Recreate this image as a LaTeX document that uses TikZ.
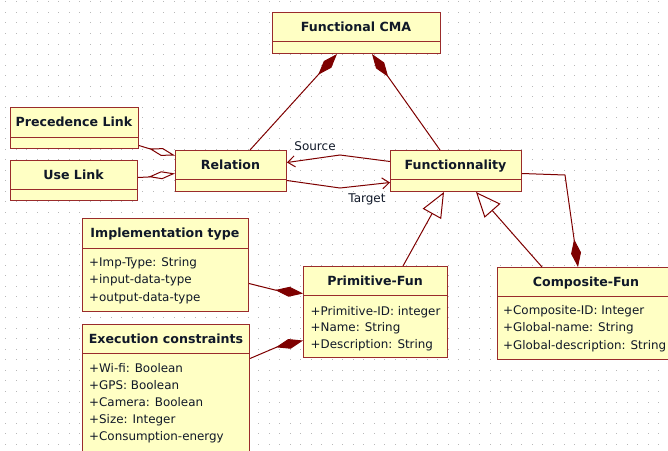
\documentclass[tikz,border=0pt]{standalone}
\usepackage{fontspec}
\setmainfont{DejaVu Sans}
\usetikzlibrary{arrows.meta,calc}
\definecolor{umlline}{HTML}{7E0000}
\definecolor{umlborder}{HTML}{9A2B2B}
\definecolor{umlfill}{HTML}{FFFFC4}
\definecolor{umltext}{HTML}{101828}
\definecolor{griddot}{HTML}{B8B8B8}
\begin{document}
\begin{tikzpicture}[x=1pt,y=-1pt,
  cls/.style={draw=umlborder, fill=umlfill, line width=1pt, anchor=north west, inner sep=0pt},
  divl/.style={draw=umlborder, line width=1pt},
  ttl/.style={font=\fontsize{12.6}{14}\selectfont\bfseries, text=umltext, inner sep=0pt, text height=9.2pt, text depth=0pt},
  attr/.style={font=\fontsize{11.9}{14}\selectfont, text=umltext, inner sep=0pt, anchor=base west},
  lbl/.style={font=\fontsize{12}{14}\selectfont, text=umltext, inner sep=0pt},
  conn/.style={draw=umlline, line width=1pt, line join=miter},
  compo/.style={conn, -{Diamond[length=28pt,width=10pt,fill=umlline]}},
  aggr/.style={conn, -{Diamond[open,length=27pt,width=8pt]}},
  gen/.style={conn, -{Triangle[open,length=25pt,width=21pt]}},
  nav/.style={conn, -{Straight Barb[length=7pt,width=11pt]}}
]
\clip (0,0) rectangle (668,450);
\fill[white] (0,0) rectangle (668,450);
% dotted grid
\foreach \i in {0,...,63}{
  \foreach \j in {0,...,42}{
    \fill[griddot] (5.4+10.53*\i,1.4+10.53*\j) rectangle ++(1,1);
  }
}
% ---------- classes ----------
\node[cls, minimum width=168pt, minimum height=41pt] (cma) at (272,12) {};
\draw[divl] ([yshift=-29pt]cma.north west) -- ([yshift=-29pt]cma.north east);
\node[ttl] (cmat) at (356,26.5) {Functional CMA};

\node[cls, minimum width=128pt, minimum height=41pt] (prec) at (10,107) {};
\draw[divl] ([yshift=-30pt]prec.north west) -- ([yshift=-30pt]prec.north east);
\node[ttl] (prect) at (74,122) {Precedence Link};

\node[cls, minimum width=127pt, minimum height=40pt] (use) at (10,160) {};
\draw[divl] ([yshift=-29pt]use.north west) -- ([yshift=-29pt]use.north east);
\node[ttl] (uset) at (73.5,174.5) {Use Link};

\node[cls, minimum width=111pt, minimum height=41pt] (rel) at (175,150) {};
\draw[divl] ([yshift=-29pt]rel.north west) -- ([yshift=-29pt]rel.north east);
\node[ttl] (relt) at (230.5,164.5) {Relation};

\node[cls, minimum width=131pt, minimum height=41pt] (func) at (390,150) {};
\draw[divl] ([yshift=-29pt]func.north west) -- ([yshift=-29pt]func.north east);
\node[ttl] (funct) at (455.5,164.5) {Functionnality};

\node[cls, minimum width=166pt, minimum height=93pt] (impl) at (82,218) {};
\draw[divl] ([yshift=-30pt]impl.north west) -- ([yshift=-30pt]impl.north east);
\node[ttl] (implt) at (165,233) {Implementation type};
\foreach \t [count=\k from 0] in {+Imp-Type: String,+input-data-type,+output-data-type}
  \node[attr] (impla\k) at (89,266.7+17.2*\k) {\t};

\node[cls, minimum width=144pt, minimum height=91pt] (prim) at (303,266) {};
\draw[divl] ([yshift=-29pt]prim.north west) -- ([yshift=-29pt]prim.north east);
\node[ttl] (primt) at (375,280.5) {Primitive-Fun};
\foreach \t [count=\k from 0] in {+Primitive-ID: integer,+Name: String,+Description: String}
  \node[attr] (prima\k) at (310.5,315+16.9*\k) {\t};

\node[cls, minimum width=174pt, minimum height=92pt] (comp) at (497,267) {};
\draw[divl] ([yshift=-29pt]comp.north west) -- ([yshift=-29pt]comp.north east);
\node[ttl] (compt) at (586,281.5) {Composite-Fun};
\foreach \t [count=\k from 0] in {+Composite-ID: Integer,+Global-name: String,+Global-description: String}
  \node[attr] (compa\k) at (503,314.5+17.3*\k) {\t};

\node[cls, minimum width=167pt, minimum height=140pt] (exec) at (82,324) {};
\draw[divl] ([yshift=-29pt]exec.north west) -- ([yshift=-29pt]exec.north east);
\node[ttl] (exect) at (166,338.5) {Execution constraints};
\foreach \t [count=\k from 0] in {+Wi-fi: Boolean,+GPS: Boolean,+Camera: Boolean,+Size: Integer,+Consumption-energy}
  \node[attr] (execa\k) at (89,372.7+17*\k) {\t};

% ---------- connectors ----------
% compositions into Functional CMA
\draw[compo] ([xshift=75pt]rel.north west) -- ([xshift=65pt]cma.south west);
\draw[compo] ([xshift=50pt]func.north west) -- ([xshift=100pt]cma.south west);
% aggregations into Relation
\coordinate (pb) at (147,148);
\coordinate (ub) at (148,177);
\draw[aggr] ([yshift=-17.5pt]prec.east) -- (pb) -- ([yshift=15.5pt]rel.west);
\draw[aggr] ([yshift=3pt]use.east) -- (ub) -- ([yshift=-2.5pt]rel.west);
% Source / Target
\coordinate (sb) at (340,155);
\coordinate (tb) at (340,188);
\draw[nav] ([yshift=9.5pt]func.west) -- (sb) -- ([yshift=8.5pt]rel.east);
\draw[nav] ([yshift=-9.5pt]rel.east) -- (tb) -- ([yshift=-11.5pt]func.west);
\node[lbl] (srcl) at (315,146.5) {Source};
\node[lbl] (tgtl) at (367,199.5) {Target};
% generalizations
\draw[gen] ([xshift=100pt]prim.north west) -- ([xshift=54pt]func.south west);
\draw[gen] ([xshift=45pt]comp.north west) -- ([xshift=86pt]func.south west);
% Functionnality - Composite-Fun composition
\coordinate (fcb) at (565,175);
\draw[compo] ([yshift=-2.5pt]func.east) -- (fcb) -- ([xshift=81pt]comp.north west);
% compositions into Primitive-Fun
\coordinate (ib) at (275,290);
\coordinate (eb) at (277,347);
\draw[compo] ([yshift=-18.5pt]impl.east) -- (ib) -- ([yshift=18.5pt]prim.west);
\draw[compo] ([yshift=36pt]exec.east) -- (eb) -- ([yshift=-28.5pt]prim.west);
\end{tikzpicture}
\end{document}
